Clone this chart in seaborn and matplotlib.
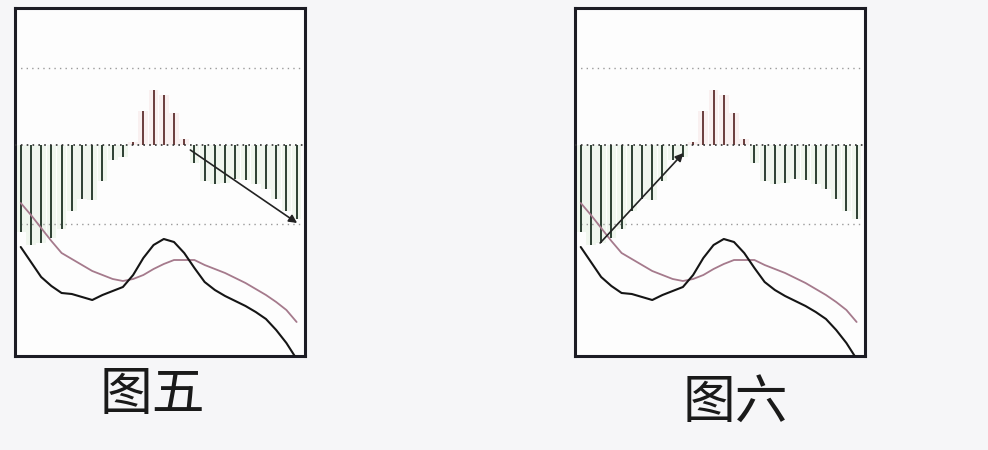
import numpy as np
import pandas as pd
import matplotlib
matplotlib.use("Agg")
import matplotlib.pyplot as plt
import seaborn as sns

# ---- data ----
bar_index = list(range(28))
macd_hist = [-0.87, -1.00, -0.98, -0.93, -0.84, -0.66, -0.54, -0.55, -0.36, -0.15,
             -0.12, 0.03, 0.34, 0.55, 0.50, 0.32, 0.06, -0.18, -0.36, -0.39,
             -0.38, -0.34, -0.35, -0.39, -0.44, -0.54, -0.66, -0.74]
dif_line = [-1.02, -1.17, -1.32, -1.41, -1.48, -1.49, -1.52, -1.55, -1.50, -1.46,
            -1.42, -1.30, -1.13, -1.00, -0.94, -0.97, -1.08, -1.23, -1.37, -1.45,
            -1.51, -1.56, -1.61, -1.67, -1.74, -1.85, -1.98, -2.14]
dea_line = [-0.58, -0.70, -0.83, -0.96, -1.08, -1.14, -1.20, -1.26, -1.30, -1.34,
            -1.36, -1.34, -1.30, -1.24, -1.19, -1.15, -1.15, -1.15, -1.20, -1.24,
            -1.28, -1.33, -1.38, -1.44, -1.50, -1.57, -1.65, -1.77]
guide_levels = [0.77, -0.79]
panel_titles = ["图五", "图六"]
# arrows: (start index, start value) -> (end index, end value)
arrows = [((16.6, -0.05), (27.05, -0.78)),
          ((1.9, -0.98), (10.05, -0.08))]

df = pd.DataFrame({"i": bar_index, "hist": macd_hist, "dif": dif_line, "dea": dea_line})
df["sign"] = np.where(df["hist"] >= 0, "pos", "neg")

sns.set_theme(style="white")
plt.rcParams["font.family"] = ["Noto Sans CJK SC", "DejaVu Sans"]

fig = plt.figure(figsize=(9.88, 4.50), dpi=100)
fig.patch.set_facecolor("#f6f6f8")

panel_lefts = [15 / 988, 575 / 988]
label_pos = [(152 / 988, 1 - 395 / 450), (735 / 988, 1 - 402 / 450)]

for k in range(2):
    ax = fig.add_axes([panel_lefts[k], 1 - 356 / 450, 290 / 988, 348 / 450])
    ax.set_facecolor("#fdfdfd")
    # faint halo around the bars
    sns.barplot(data=df, x="i", y="hist", hue="sign",
                palette={"pos": "#fbeeee", "neg": "#eff7ed"},
                dodge=False, width=0.95, native_scale=True, legend=False,
                ax=ax, linewidth=0, errorbar=None)
    # guide lines
    for lv in guide_levels:
        ax.axhline(lv, color="#9a9a9a", lw=1.0, ls=(0, (1, 3)), zorder=1)
    ax.axhline(0, color="#333333", lw=1.2, ls=(0, (1, 2.5)), zorder=4)
    # bars
    sns.barplot(data=df, x="i", y="hist", hue="sign",
                palette={"pos": "#743838", "neg": "#2e4634"},
                dodge=False, width=0.2, native_scale=True, legend=False,
                ax=ax, linewidth=0, errorbar=None, zorder=3)
    sns.lineplot(data=df, x="i", y="dea", color="#a57a8c", lw=1.3, ax=ax, zorder=5)
    sns.lineplot(data=df, x="i", y="dif", color="#151515", lw=1.5, ax=ax, zorder=6)
    (x0, y0), (x1, y1) = arrows[k]
    ax.annotate("", xy=(x1, y1), xytext=(x0, y0),
                arrowprops=dict(arrowstyle="-|>", color="#222222", lw=1.2,
                                mutation_scale=12, shrinkA=0, shrinkB=0), zorder=7)
    ax.set_xlim(-0.56, 27.82)
    ax.set_ylim(-2.11, 1.37)
    ax.set_xticks([])
    ax.set_yticks([])
    ax.set_xlabel("")
    ax.set_ylabel("")
    for sp in ax.spines.values():
        sp.set_visible(True)
        sp.set_color("#1c1c24")
        sp.set_linewidth(2.2)
    fig.text(label_pos[k][0], label_pos[k][1], panel_titles[k], fontsize=38,
             ha="center", va="center", color="#1a1a1a", fontweight="light")

fig.savefig("out.png", dpi=100, facecolor=fig.get_facecolor())
